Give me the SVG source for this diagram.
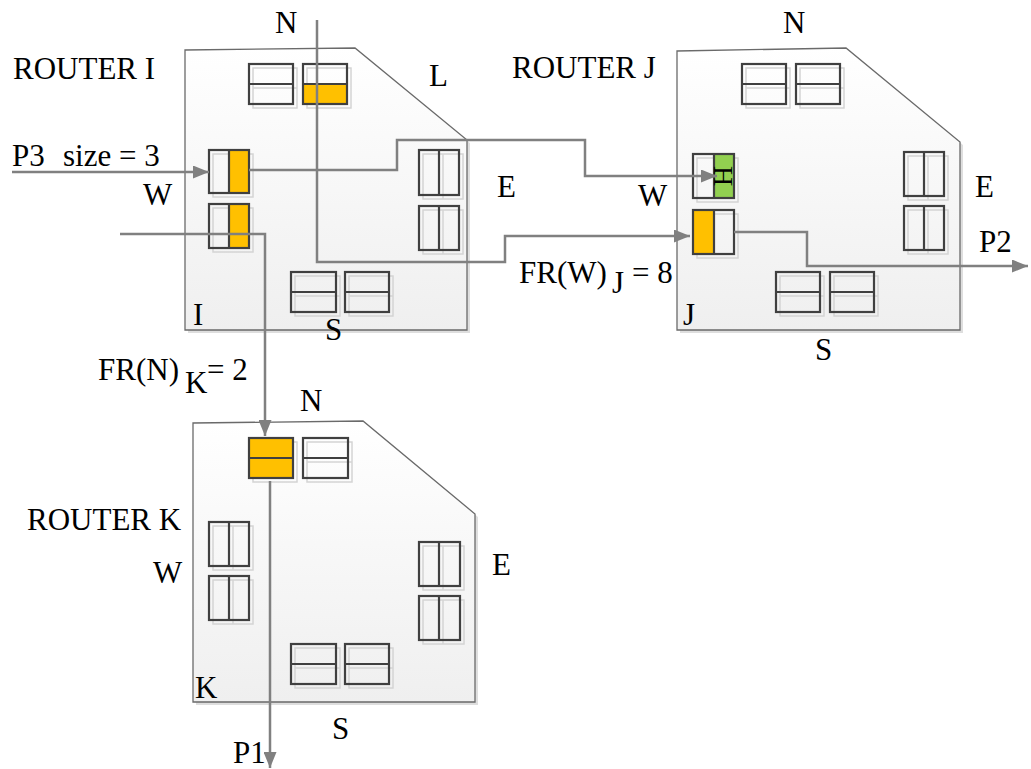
<svg xmlns="http://www.w3.org/2000/svg" width="1031" height="769" viewBox="0 0 1031 769">
<style>
.router{stroke:#6a6a6a;stroke-width:1.3;fill:url(#rg)}
.rsh{fill:#dedede;stroke:none}
.box{fill:none;stroke:#404040;stroke-width:2.2}
.bsh{fill:none;stroke:#d4d4d4;stroke-width:1.5}
.org{fill:#FFC000}
.grn{fill:#92D050}
.conn{fill:none;stroke:#808080;stroke-width:2.5}
.t{font-size:31px;fill:#000}
</style>
<defs>
<linearGradient id="rg" x1="0" y1="0" x2="0" y2="1">
<stop offset="0" stop-color="#ffffff"/>
<stop offset="1" stop-color="#efefef"/>
</linearGradient>
<marker id="arr" viewBox="0 0 16 13" refX="16" refY="6.5" markerWidth="16" markerHeight="13" orient="auto" markerUnits="userSpaceOnUse">
<path d="M0,0 L16,6.5 L0,13 z" fill="#808080"/>
</marker>
</defs>
<rect width="1031" height="769" fill="#ffffff"/>
<g font-family="'Times New Roman', 'Liberation Serif', 'DejaVu Serif', serif">

<g id="routerI">
<polygon class="rsh" points="188,53 358,51 470,143 470,333 188,333"/>
<polygon class="router" points="185,50 355,48 467,140 467,330 185,330"/>
<g id="I-N1"><rect class="bsh" x="253" y="68" width="44" height="40"/><line class="bsh" x1="253" y1="88" x2="297" y2="88"/><rect class="box" x="249" y="64" width="44" height="40"/><line class="box" x1="249" y1="84" x2="293" y2="84"/></g>
<g id="I-N2"><rect class="bsh" x="307" y="68" width="44" height="40"/><rect class="org" x="303" y="84" width="44" height="20"/><rect class="box" x="303" y="64" width="44" height="40"/><line class="box" x1="303" y1="84" x2="347" y2="84"/></g>
<g id="I-W1"><rect class="bsh" x="213" y="154" width="40" height="43"/><rect class="org" x="229" y="150" width="20" height="43"/><rect class="box" x="209" y="150" width="40" height="43"/><line class="box" x1="229" y1="150" x2="229" y2="193"/></g>
<g id="I-W2"><rect class="bsh" x="213" y="208" width="40" height="44"/><rect class="org" x="229" y="204" width="20" height="44"/><rect class="box" x="209" y="204" width="40" height="44"/><line class="box" x1="229" y1="204" x2="229" y2="248"/></g>
<g id="I-E1"><rect class="bsh" x="423" y="154" width="40" height="45"/><line class="bsh" x1="443" y1="154" x2="443" y2="199"/><rect class="box" x="419" y="150" width="40" height="45"/><line class="box" x1="439" y1="150" x2="439" y2="195"/></g>
<g id="I-E2"><rect class="bsh" x="423" y="210" width="40" height="44"/><line class="bsh" x1="443" y1="210" x2="443" y2="254"/><rect class="box" x="419" y="206" width="40" height="44"/><line class="box" x1="439" y1="206" x2="439" y2="250"/></g>
<g id="I-S1"><rect class="bsh" x="295" y="276" width="45" height="40"/><line class="bsh" x1="295" y1="296" x2="340" y2="296"/><rect class="box" x="291" y="272" width="45" height="40"/><line class="box" x1="291" y1="292" x2="336" y2="292"/></g>
<g id="I-S2"><rect class="bsh" x="349" y="276" width="44" height="40"/><line class="bsh" x1="349" y1="296" x2="393" y2="296"/><rect class="box" x="345" y="272" width="44" height="40"/><line class="box" x1="345" y1="292" x2="389" y2="292"/></g>
<text class="t" x="13" y="79">ROUTER I</text>
<text class="t" x="275" y="33">N</text>
<text class="t" x="429" y="86">L</text>
<text class="t" x="143" y="205">W</text>
<text class="t" x="497" y="197">E</text>
<text class="t" x="325" y="340">S</text>
<text class="t" x="193" y="325">I</text>
</g>

<g id="routerJ">
<polygon class="rsh" points="680,54 849,51 963,145 963,333 680,333"/>
<polygon class="router" points="677,51 846,48 960,142 960,330 677,330"/>
<g id="J-N1"><rect class="bsh" x="746" y="68" width="44" height="40"/><line class="bsh" x1="746" y1="88" x2="790" y2="88"/><rect class="box" x="742" y="64" width="44" height="40"/><line class="box" x1="742" y1="84" x2="786" y2="84"/></g>
<g id="J-N2"><rect class="bsh" x="800" y="68" width="44" height="40"/><line class="bsh" x1="800" y1="88" x2="844" y2="88"/><rect class="box" x="796" y="64" width="44" height="40"/><line class="box" x1="796" y1="84" x2="840" y2="84"/></g>
<g id="J-W1"><rect class="bsh" x="697" y="158" width="41" height="44"/><rect class="grn" x="714" y="154" width="20" height="44"/><rect class="box" x="693" y="154" width="41" height="44"/><line class="box" x1="714" y1="154" x2="714" y2="198"/><text font-size="28" text-anchor="middle" transform="translate(714,176) rotate(90)">H</text></g>
<g id="J-W2"><rect class="bsh" x="697" y="214" width="41" height="44"/><rect class="org" x="693" y="210" width="21" height="44"/><rect class="box" x="693" y="210" width="41" height="44"/><line class="box" x1="714" y1="210" x2="714" y2="254"/></g>
<g id="J-E1"><rect class="bsh" x="908" y="156" width="40" height="44"/><line class="bsh" x1="928" y1="156" x2="928" y2="200"/><rect class="box" x="904" y="152" width="40" height="44"/><line class="box" x1="924" y1="152" x2="924" y2="196"/></g>
<g id="J-E2"><rect class="bsh" x="908" y="210" width="40" height="44"/><line class="bsh" x1="928" y1="210" x2="928" y2="254"/><rect class="box" x="904" y="206" width="40" height="44"/><line class="box" x1="924" y1="206" x2="924" y2="250"/></g>
<g id="J-S1"><rect class="bsh" x="780" y="276" width="44" height="40"/><line class="bsh" x1="780" y1="296" x2="824" y2="296"/><rect class="box" x="776" y="272" width="44" height="40"/><line class="box" x1="776" y1="292" x2="820" y2="292"/></g>
<g id="J-S2"><rect class="bsh" x="834" y="276" width="44" height="40"/><line class="bsh" x1="834" y1="296" x2="878" y2="296"/><rect class="box" x="830" y="272" width="44" height="40"/><line class="box" x1="830" y1="292" x2="874" y2="292"/></g>
<text class="t" x="512" y="78">ROUTER J</text>
<text class="t" x="783" y="33">N</text>
<text class="t" x="638" y="206">W</text>
<text class="t" x="975" y="197">E</text>
<text class="t" x="815" y="360">S</text>
<text class="t" x="683" y="325">J</text>
</g>

<g id="routerK">
<polygon class="rsh" points="196,426 366,424 478,517 478,705 196,705"/>
<polygon class="router" points="193,423 363,421 475,514 475,702 193,702"/>
<g id="K-N1"><rect class="bsh" x="253" y="442" width="44" height="40"/><rect class="org" x="249" y="438" width="44" height="40"/><rect class="box" x="249" y="438" width="44" height="40"/><line class="box" x1="249" y1="458" x2="293" y2="458"/></g>
<g id="K-N2"><rect class="bsh" x="307" y="442" width="45" height="40"/><line class="bsh" x1="307" y1="462" x2="352" y2="462"/><rect class="box" x="303" y="438" width="45" height="40"/><line class="box" x1="303" y1="458" x2="348" y2="458"/></g>
<g id="K-W1"><rect class="bsh" x="213" y="526" width="40" height="44"/><line class="bsh" x1="233" y1="526" x2="233" y2="570"/><rect class="box" x="209" y="522" width="40" height="44"/><line class="box" x1="229" y1="522" x2="229" y2="566"/></g>
<g id="K-W2"><rect class="bsh" x="213" y="580" width="40" height="44"/><line class="bsh" x1="233" y1="580" x2="233" y2="624"/><rect class="box" x="209" y="576" width="40" height="44"/><line class="box" x1="229" y1="576" x2="229" y2="620"/></g>
<g id="K-E1"><rect class="bsh" x="423" y="546" width="41" height="44"/><line class="bsh" x1="443" y1="546" x2="443" y2="590"/><rect class="box" x="419" y="542" width="41" height="44"/><line class="box" x1="439" y1="542" x2="439" y2="586"/></g>
<g id="K-E2"><rect class="bsh" x="423" y="600" width="41" height="44"/><line class="bsh" x1="443" y1="600" x2="443" y2="644"/><rect class="box" x="419" y="596" width="41" height="44"/><line class="box" x1="439" y1="596" x2="439" y2="640"/></g>
<g id="K-S1"><rect class="bsh" x="295" y="648" width="45" height="40"/><line class="bsh" x1="295" y1="668" x2="340" y2="668"/><rect class="box" x="291" y="644" width="45" height="40"/><line class="box" x1="291" y1="664" x2="336" y2="664"/></g>
<g id="K-S2"><rect class="bsh" x="349" y="648" width="44" height="40"/><line class="bsh" x1="349" y1="668" x2="393" y2="668"/><rect class="box" x="345" y="644" width="44" height="40"/><line class="box" x1="345" y1="664" x2="389" y2="664"/></g>
<text class="t" x="27" y="530">ROUTER K</text>
<text class="t" x="300" y="411">N</text>
<text class="t" x="153" y="583">W</text>
<text class="t" x="492" y="575">E</text>
<text class="t" x="332" y="739">S</text>
<text class="t" x="195" y="698">K</text>
</g>

<g id="connectors">
<polyline class="conn" points="12,172 209,172" marker-end="url(#arr)"/>
<polyline class="conn" points="249,170 397,170 397,140 585,140 585,176 717,176" marker-end="url(#arr)"/>
<polyline class="conn" points="317,20 317,262 505,262 505,236 690,236" marker-end="url(#arr)"/>
<polyline class="conn" points="120,234 265,234 265,436" marker-end="url(#arr)"/>
<polyline class="conn" points="270,481 270,768" marker-end="url(#arr)"/>
<polyline class="conn" points="734,232 807,232 807,266 1028,266" marker-end="url(#arr)"/>
</g>

<g id="labels">
<text class="t" x="12" y="166">P3</text>
<text class="t" x="63" y="166">size = 3</text>
<text class="t" x="979" y="252">P2</text>
<text class="t" x="233" y="763">P1</text>
<text class="t" x="98" y="380">FR(N)</text>
<text class="t" x="185" y="393">K</text>
<text class="t" x="207" y="380">= 2</text>
<text class="t" x="519" y="283">FR(W)</text>
<text class="t" x="612" y="293">J</text>
<text class="t" x="632" y="283">= 8</text>
</g>
</g>
</svg>
